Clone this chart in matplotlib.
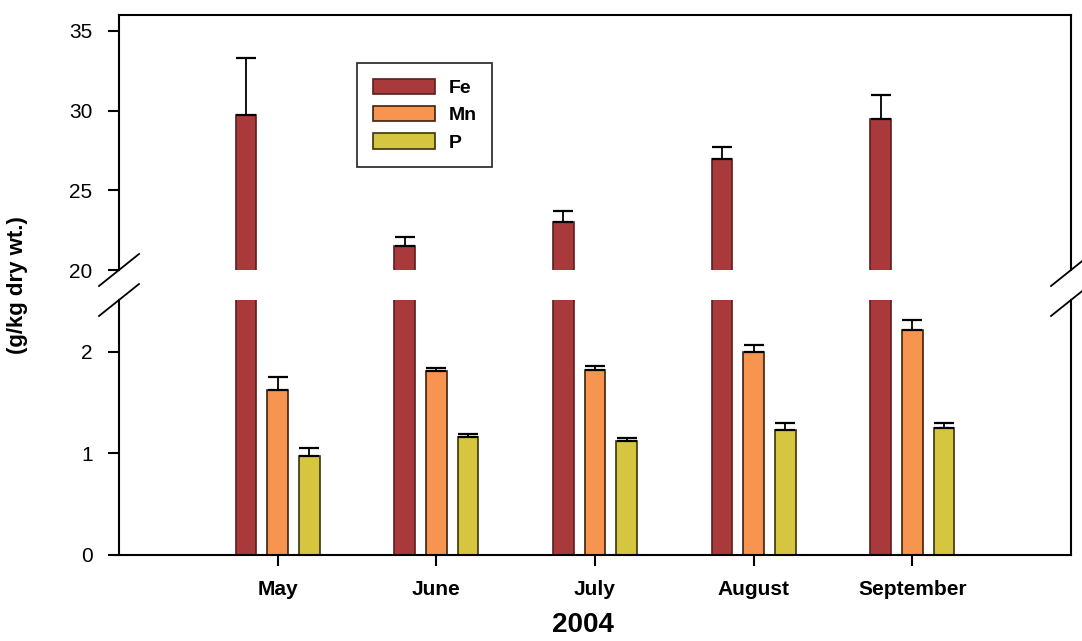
import numpy as np
import matplotlib.pyplot as plt
from matplotlib.lines import Line2D

plt.rcParams['font.family'] = ['Liberation Sans', 'DejaVu Sans']

months = ["May", "June", "July", "August", "September"]
fe = [29.7, 21.5, 23.0, 26.95, 29.5]
fe_err = [3.6, 0.6, 0.7, 0.75, 1.45]
mn = [1.62, 1.81, 1.82, 2.00, 2.21]
mn_err = [0.13, 0.03, 0.045, 0.07, 0.10]
p = [0.975, 1.165, 1.12, 1.23, 1.25]
p_err = [0.08, 0.03, 0.03, 0.07, 0.05]

fe_color, fe_edge = "#a83a3c", "#5e1c1e"
mn_color, mn_edge = "#f7944f", "#3a2210"
p_color, p_edge = "#d6c63f", "#3a3410"

W, H = 1082, 641
fig = plt.figure(figsize=(W / 100, H / 100), dpi=100)

def fx(px):
    return px / W

def fy(py):
    return 1 - py / H

left, right = 119, 1071
ax_top = fig.add_axes([fx(left), fy(270), fx(right - left), fy(15) - fy(270)])
ax_bot = fig.add_axes([fx(left), fy(555), fx(right - left), fy(300) - fy(555)])

x = np.arange(len(months))
w = 0.13
off = 0.2
err_kw = dict(ecolor="black", elinewidth=1.3, capsize=7.5, capthick=1.6)
zeros = [0] * len(months)

# top panel: Fe only
ax_top.bar(x - off, fe, w, color=fe_color, edgecolor=fe_edge, linewidth=1.2,
           yerr=[zeros, fe_err], error_kw=err_kw)
ax_top.set_ylim(20, 36.0)
ax_top.set_yticks([20, 25, 30, 35])

# bottom panel
h_fe = ax_bot.bar(x - off, fe, w, color=fe_color, edgecolor=fe_edge, linewidth=1.2, label="Fe")
h_mn = ax_bot.bar(x, mn, w, color=mn_color, edgecolor=mn_edge, linewidth=1.2,
                  yerr=[zeros, mn_err], error_kw=err_kw, label="Mn")
h_p = ax_bot.bar(x + off, p, w, color=p_color, edgecolor=p_edge, linewidth=1.2,
                 yerr=[zeros, p_err], error_kw=err_kw, label="P")
ax_bot.set_ylim(0, 2.51)
ax_bot.set_yticks([0, 1, 2])

for ax in (ax_top, ax_bot):
    ax.set_xlim(-1, 5)
    for s in ax.spines.values():
        s.set_linewidth(1.5)
    ax.tick_params(axis="y", direction="out", length=8, width=1.5, pad=11, labelsize=15)
    ax.tick_params(axis="x", direction="out", length=8, width=1.5, pad=10)

ax_top.spines["bottom"].set_visible(False)
ax_top.set_xticks([])
ax_bot.spines["top"].set_visible(False)
ax_bot.set_xticks(x)
ax_bot.set_xticklabels(months, fontsize=15, fontweight="bold")

# break marks
for cx in (left, right):
    for cy in (270, 300):
        fig.add_artist(Line2D([fx(cx - 20), fx(cx + 20)], [fy(cy + 16), fy(cy - 16)],
                              color="black", linewidth=1.3))

fig.text(fx(18), fy(285), "(g/kg dry wt.)", rotation=90, ha="center", va="center",
         fontsize=16, fontweight="bold")
fig.text(fx(583), fy(625), "2004", ha="center", va="center", fontsize=20, fontweight="bold")

leg = ax_top.legend(handles=[h_fe, h_mn, h_p], loc="upper left",
                    bbox_to_anchor=((357 - left) / (right - left), (270 - 63) / 255),
                    prop={"weight": "bold", "size": 14},
                    handlelength=3.2, handleheight=0.85, handletextpad=0.7,
                    labelspacing=0.45, borderpad=0.8, borderaxespad=0,
                    frameon=True, fancybox=False, edgecolor="black")
leg.get_frame().set_linewidth(1.3)

fig.savefig("out.png", dpi=100)
